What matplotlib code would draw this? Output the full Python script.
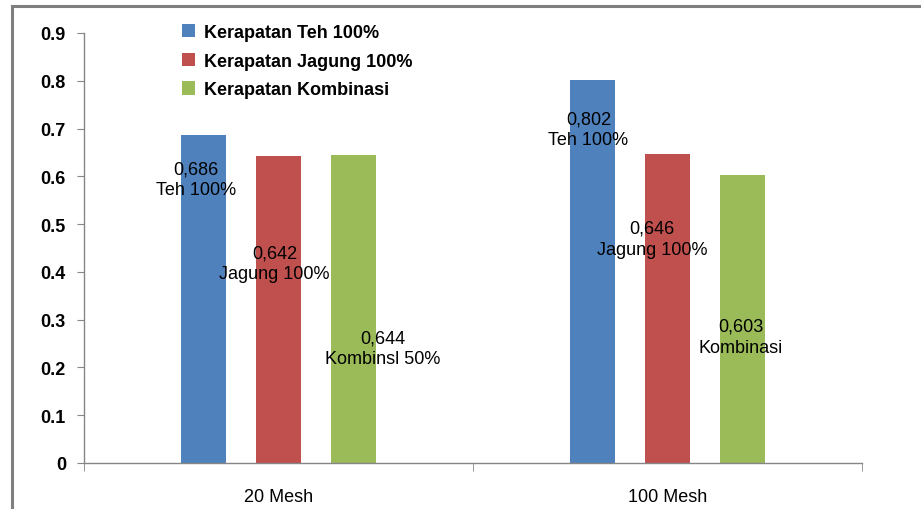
import matplotlib
matplotlib.use("Agg")
import matplotlib.pyplot as plt
from matplotlib.patches import Rectangle
import numpy as np

plt.rcParams['font.family'] = ['Liberation Sans', 'DejaVu Sans']

categories = ["20 Mesh", "100 Mesh"]
series_names = ["Kerapatan Teh 100%", "Kerapatan Jagung 100%", "Kerapatan Kombinasi"]
colors = ["#4f81bd", "#c0504d", "#9bbb59"]
values = [
    [0.686, 0.802],   # Teh
    [0.642, 0.646],   # Jagung
    [0.644, 0.603],   # Kombinasi
]
labels = [
    ["0,686\nTeh 100%", "0,802\nTeh 100%"],
    ["0,642\nJagung 100%", "0,646\nJagung 100%"],
    ["0,644\nKombinsl 50%", "0,603\nKombinasi"],
]
# where the manually dragged labels sit (value units / category units)
label_y = [[0.594, 0.699], [0.418, 0.469], [0.240, 0.264]]
label_dx = [[-0.02, -0.01], [-0.01, -0.04], [0.075, -0.005]]

fig = plt.figure(figsize=(9.21, 5.10), dpi=100)
ax = fig.add_axes([84 / 921, 1 - 464 / 510, (862 - 84) / 921, (464 - 34) / 510])

# chart border
fig.patches.append(Rectangle((12 / 921, -0.1), 1.2, 1.1 - 7 / 510, transform=fig.transFigure,
                             fill=False, edgecolor="#7f7f7f", linewidth=2.2))

x = np.arange(len(categories))
width = 0.116
step = 0.193
for i, (name, col) in enumerate(zip(series_names, colors)):
    pos = x + (i - 1) * step
    ax.bar(pos, values[i], width, color=col, label=name, zorder=2)
    for j in range(len(categories)):
        ax.text(pos[j] + label_dx[i][j], label_y[i][j], labels[i][j], ha="center", va="center",
                fontsize=13, color="black", linespacing=1.3, zorder=3)

ax.set_xlim(-0.5, 1.5)
ax.set_ylim(0, 0.9)
ax.set_yticks(np.arange(0, 0.91, 0.1))
ax.set_yticklabels(["0"] + ["%.1f" % v for v in np.arange(0.1, 0.91, 0.1)], fontweight="bold")
ax.set_xticks(x)
ax.set_xticklabels(categories)
ax.set_xticks([-0.5, 0.5, 1.5], minor=True)
ax.tick_params(axis="x", which="major", length=0, pad=18, labelsize=13)
ax.tick_params(axis="x", which="minor", length=6, color="#868686", direction="out")
ax.tick_params(axis="y", length=5, color="#868686", pad=8, labelsize=13)

for s in ["top", "right"]:
    ax.spines[s].set_visible(False)
for s in ["left", "bottom"]:
    ax.spines[s].set_color("#868686")
    ax.spines[s].set_linewidth(1)

ax.legend(loc="upper left", bbox_to_anchor=(0.105, 1.059), frameon=False,
          prop={"size": 13, "weight": "bold"},
          handlelength=0.75, handleheight=0.75, handletextpad=0.45, labelspacing=0.65)

fig.savefig("out.png", dpi=100)
